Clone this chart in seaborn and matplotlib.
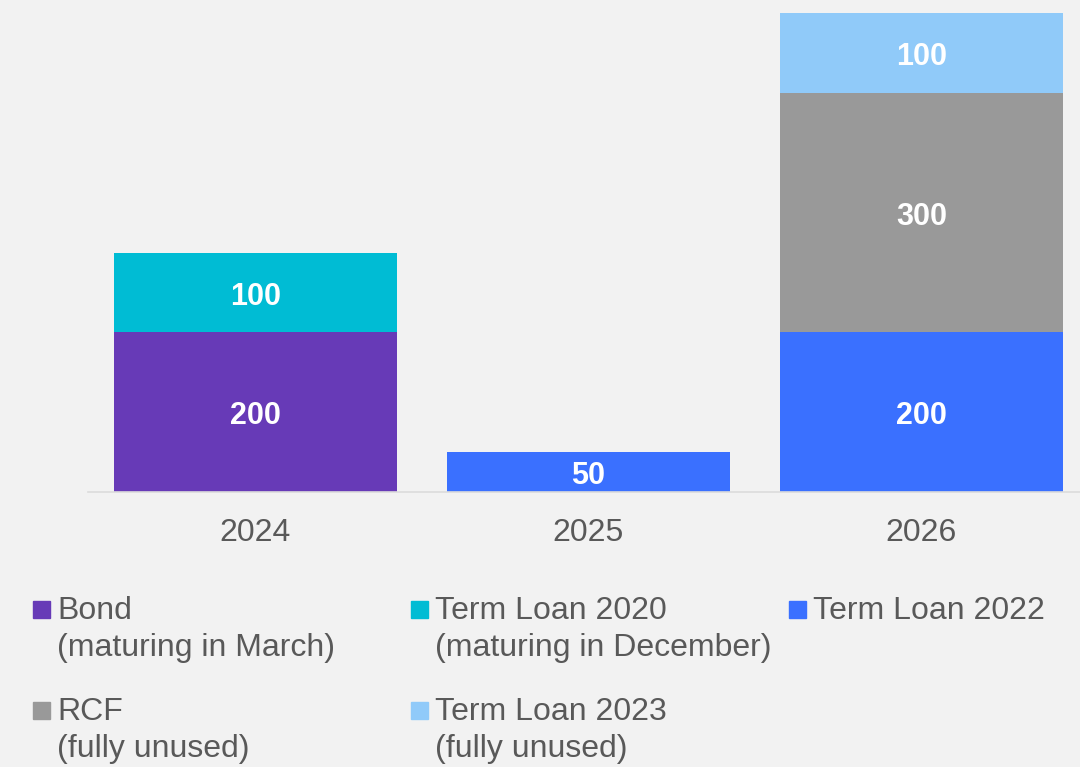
import numpy as np
import pandas as pd
import seaborn as sns
import matplotlib.pyplot as plt
from matplotlib.patches import Rectangle

# data
years = ["2024", "2025", "2026"]
bond = [200, 0, 0]
term_loan_2020 = [100, 0, 0]
term_loan_2022 = [0, 50, 200]
rcf = [0, 0, 300]
term_loan_2023 = [0, 0, 100]

series_names = ["Bond", "Term Loan 2020", "Term Loan 2022", "RCF", "Term Loan 2023"]
series_notes = ["(maturing in March)", "(maturing in December)", "", "(fully unused)", "(fully unused)"]
series_values = [bond, term_loan_2020, term_loan_2022, rcf, term_loan_2023]
colors = ["#673ab7", "#00bcd4", "#3a70ff", "#999999", "#90caf9"]

bg = "#f2f2f2"
text_col = "#595959"

sns.set_style("white")
plt.rcParams["font.family"] = ["Liberation Sans", "DejaVu Sans"]

fig = plt.figure(figsize=(10.8, 7.67), dpi=100, facecolor=bg)
ax = fig.add_axes([88 / 1080, 275 / 767, 1 - 88 / 1080, 479 / 767])
ax.set_facecolor(bg)

bottom = np.zeros(len(years))
for name, vals, c in zip(series_names, series_values, colors):
    df = pd.DataFrame({"year": years, "value": vals})
    sns.barplot(data=df, x="year", y="value", color=c, saturation=1,
                width=0.85, bottom=bottom, errorbar=None, ax=ax, linewidth=0)
    labels = [str(v) if v > 0 else "" for v in vals]
    anns = ax.bar_label(ax.containers[-1], labels=labels, label_type="center",
                        color="white", fontweight="bold", fontsize=22)
    for a in anns:
        a.xyann = (0, -3)
    bottom = bottom + np.array(vals)

ax.set_xlim(-0.503, 2.476)
ax.set_ylim(0, 600)
ax.set_xlabel("")
ax.set_ylabel("")
ax.set_yticks([])
ax.tick_params(axis="x", length=0, labelsize=23, labelcolor=text_col, pad=19)
for s in ["top", "right", "left"]:
    ax.spines[s].set_visible(False)
ax.spines["bottom"].set_color("#dcdcdc")
ax.spines["bottom"].set_linewidth(1.2)

# legend drawn by hand so the square sits on the first line
W, H = 1080, 767
col_x = [33, 411, 789]
row_y = [619, 720]
order = [(0, 0), (0, 1), (0, 2), (1, 0), (1, 1)]
for (r, c), name, note, colr in zip(order, series_names, series_notes, colors):
    x0 = col_x[c]
    yb = row_y[r]
    fig.patches.append(Rectangle((x0 / W, 1 - (yb - 1) / H), 17 / W, 17 / H,
                                 transform=fig.transFigure, color=colr))
    fig.text((x0 + 24) / W, 1 - yb / H, name, fontsize=23, color=text_col, va="baseline")
    if note:
        fig.text((x0 + 24) / W, 1 - (yb + 37) / H, note, fontsize=23, color=text_col, va="baseline")

fig.savefig("out.png", dpi=100, facecolor=bg)
